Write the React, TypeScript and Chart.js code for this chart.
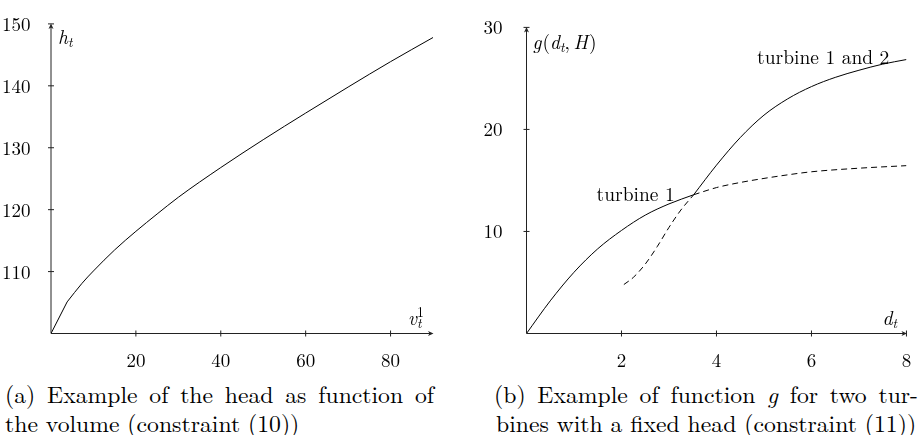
import React, { useEffect, useRef } from "react";
import { Chart, registerables } from "chart.js";

Chart.register(...registerables);

// ---------- data: (a) head as function of volume ----------
const volumeX = [0, 3.8, 7.3, 10, 15, 20, 25, 30, 40, 50, 60, 70, 80, 90];
const headY = [100, 105.1, 108.1, 110.1, 113.5, 116.5, 119.3, 122.0, 126.8, 131.3, 135.6, 139.8, 143.9, 147.8];
const headXTicks = [20, 40, 60, 80];
const headYTicks = [110, 120, 130, 140, 150];

// ---------- data: (b) function g for two turbines ----------
const t1SolidX = [0, 0.5, 1, 1.5, 2, 2.5, 3, 3.52];
const t1SolidY = [0, 3.2, 6.0, 8.3, 10.1, 11.6, 12.7, 13.6];
const t1DashX = [3.52, 4, 4.5, 5, 5.5, 6, 7, 8];
const t1DashY = [13.6, 14.3, 14.8, 15.2, 15.55, 15.85, 16.2, 16.45];
const t12DashX = [2.05, 2.25, 2.5, 2.75, 3, 3.25, 3.52];
const t12DashY = [4.8, 5.5, 6.8, 8.5, 10.4, 12.1, 13.6];
const t12SolidX = [3.52, 4, 4.5, 5, 5.5, 6, 6.5, 7, 7.5, 8];
const t12SolidY = [13.6, 16.5, 19.2, 21.4, 23.0, 24.2, 25.1, 25.8, 26.4, 26.85];
const gXTicks = [2, 4, 6, 8];
const gYTicks = [10, 20, 30];

const curveNames = ["turbine 1", "turbine 1 and 2"];

const FONT = "'Latin Modern Roman', 'Liberation Serif', serif";
const AXIS_COLOR = "#222";
const TICK_SIZE = 19;

type Seg = { t: string; italic?: boolean; sub?: boolean; sup?: boolean; stay?: boolean; gap?: number };

function drawMath(ctx: CanvasRenderingContext2D, segs: Seg[], x: number, y: number, size: number) {
  let cx = x;
  ctx.textAlign = "left";
  ctx.textBaseline = "alphabetic";
  for (const s of segs) {
    const small = s.sub || s.sup;
    const fs = small ? size * 0.7 : size;
    ctx.font = `${s.italic ? "italic " : ""}${fs}px ${FONT}`;
    const dy = s.sub ? size * 0.16 : s.sup ? -size * 0.43 : 0;
    ctx.fillText(s.t, cx, y + dy);
    if (!s.stay) cx += ctx.measureText(s.t).width + (s.gap || 0);
  }
}

// how far digit glyphs sit below the canvas "middle" baseline for this font
function digitShift(size: number): number {
  const ctx = document.createElement("canvas").getContext("2d");
  if (!ctx) return 0;
  ctx.font = `${size}px ${FONT}`;
  ctx.textBaseline = "middle";
  const m = ctx.measureText("0123456789");
  const s = (m.actualBoundingBoxDescent - m.actualBoundingBoxAscent) / 2;
  return isFinite(s) ? s : 0;
}

const pts = (xs: number[], ys: number[]) => xs.map((x, i) => ({ x, y: ys[i] }));

type Decor = {
  yLabel: Seg[];
  yLabelDx: number;
  yLabelDy: number;
  xLabel: Seg[];
  xLabelDx: number;
  xLabelDy: number;
  notes?: { text: string; x: number; y: number }[];
};

function decorPlugin(d: Decor) {
  return {
    id: "axesDecor",
    afterDatasetsDraw(chart: any) {
      const { ctx, chartArea: a, scales } = chart;
      const xs = scales.x;
      const ys = scales.y;
      ctx.save();
      ctx.strokeStyle = AXIS_COLOR;
      ctx.fillStyle = AXIS_COLOR;
      ctx.lineWidth = 1;
      ctx.beginPath();
      ctx.moveTo(a.left, a.bottom);
      ctx.lineTo(a.right - 2, a.bottom);
      ctx.moveTo(a.left, a.bottom);
      ctx.lineTo(a.left, a.top + 2);
      for (const t of xs.ticks) {
        const px = xs.getPixelForValue(t.value);
        ctx.moveTo(px, a.bottom - 3);
        ctx.lineTo(px, a.bottom + 3);
      }
      for (const t of ys.ticks) {
        const py = ys.getPixelForValue(t.value);
        ctx.moveTo(a.left - 3, py);
        ctx.lineTo(a.left + 3, py);
      }
      ctx.stroke();
      // arrow heads
      ctx.beginPath();
      ctx.moveTo(a.right + 0.5, a.bottom);
      ctx.lineTo(a.right - 5, a.bottom - 2.5);
      ctx.lineTo(a.right - 3.5, a.bottom);
      ctx.lineTo(a.right - 5, a.bottom + 2.5);
      ctx.closePath();
      ctx.fill();
      ctx.beginPath();
      ctx.moveTo(a.left, a.top - 0.5);
      ctx.lineTo(a.left - 2.5, a.top + 5);
      ctx.lineTo(a.left, a.top + 3.5);
      ctx.lineTo(a.left + 2.5, a.top + 5);
      ctx.closePath();
      ctx.fill();
      // axis labels
      ctx.fillStyle = "#000";
      drawMath(ctx, d.yLabel, a.left + d.yLabelDx, a.top + d.yLabelDy, 19.5);
      drawMath(ctx, d.xLabel, a.right + d.xLabelDx, a.bottom + d.xLabelDy, 19.5);
      // curve notes
      if (d.notes) {
        ctx.font = `19.5px ${FONT}`;
        ctx.textAlign = "right";
        ctx.textBaseline = "alphabetic";
        for (const n of d.notes) {
          ctx.fillText(n.text, xs.getPixelForValue(n.x), ys.getPixelForValue(n.y));
        }
      }
      ctx.restore();
    },
  };
}

function makeOptions(opts: {
  xMin: number; xMax: number; yMin: number; yMax: number;
  xTicks: number[]; yTicks: number[];
  yWidth: number; xHeight: number; padRight: number; padTop: number; yPad: number;
}) {
  const tickFont = { family: FONT, size: TICK_SIZE, lineHeight: 1.2 };
  const shift = digitShift(TICK_SIZE);
  // x labels: digit centre wanted ~18px below the axis line
  const xPad = 18 - (TICK_SIZE * 1.2) / 2 - shift;
  return {
    responsive: false,
    animation: false as const,
    events: [],
    layout: { padding: { left: 0, right: opts.padRight, top: opts.padTop, bottom: 0 } },
    plugins: { legend: { display: false }, tooltip: { enabled: false }, title: { display: false } },
    elements: { point: { radius: 0 }, line: { borderWidth: 1, borderColor: "#000" } },
    scales: {
      x: {
        type: "linear" as const,
        min: opts.xMin,
        max: opts.xMax,
        grid: { display: false },
        border: { display: false },
        ticks: { font: tickFont, color: "#000", padding: xPad, maxRotation: 0, autoSkip: false },
        afterBuildTicks: (s: any) => { s.ticks = opts.xTicks.map((v) => ({ value: v })); },
        afterFit: (s: any) => { s.height = opts.xHeight; },
      },
      y: {
        type: "linear" as const,
        min: opts.yMin,
        max: opts.yMax,
        grid: { display: false },
        border: { display: false },
        ticks: { font: tickFont, color: "#000", padding: opts.yPad, autoSkip: false, labelOffset: -shift },
        afterBuildTicks: (s: any) => { s.ticks = opts.yTicks.map((v) => ({ value: v })); },
        afterFit: (s: any) => { s.width = opts.yWidth; },
      },
    },
  };
}

function HeadChart() {
  const ref = useRef<HTMLCanvasElement>(null);
  useEffect(() => {
    const c = new Chart(ref.current!, {
      type: "line",
      data: {
        datasets: [
          { data: pts(volumeX.slice(0, 2), headY.slice(0, 2)), borderColor: "#000", borderWidth: 1, tension: 0 },
          { data: pts(volumeX.slice(1), headY.slice(1)), borderColor: "#000", borderWidth: 1, cubicInterpolationMode: "monotone" },
        ],
      },
      options: makeOptions({
        xMin: 0, xMax: 90, yMin: 100, yMax: 150,
        xTicks: headXTicks, yTicks: headYTicks,
        yWidth: 51, xHeight: 36.5, padRight: 27, padTop: 15.7, yPad: 12.5,
      }) as any,
      plugins: [
        decorPlugin({
          yLabel: [{ t: "h", italic: true }, { t: "t", italic: true, sub: true }],
          yLabelDx: 7, yLabelDy: 20.3,
          xLabel: [{ t: "v", italic: true }, { t: "t", italic: true, sub: true, stay: true }, { t: "1", sup: true }],
          xLabelDx: -25, xLabelDy: -8.5,
        }),
      ],
    });
    return () => c.destroy();
  }, []);
  return <canvas ref={ref} width={460} height={370} style={{ position: "absolute", left: 0, top: 0, width: 460, height: 370 }} />;
}

function GChart() {
  const ref = useRef<HTMLCanvasElement>(null);
  useEffect(() => {
    const dash = [6, 4];
    const c = new Chart(ref.current!, {
      type: "line",
      data: {
        datasets: [
          { label: curveNames[0], data: pts(t1SolidX, t1SolidY), borderColor: "#000", borderWidth: 1, cubicInterpolationMode: "monotone" },
          { label: curveNames[0], data: pts(t1DashX, t1DashY), borderColor: "#000", borderWidth: 1, borderDash: dash, cubicInterpolationMode: "monotone" },
          { label: curveNames[1], data: pts(t12DashX, t12DashY), borderColor: "#000", borderWidth: 1, borderDash: dash, cubicInterpolationMode: "monotone" },
          { label: curveNames[1], data: pts(t12SolidX, t12SolidY), borderColor: "#000", borderWidth: 1, cubicInterpolationMode: "monotone" },
        ],
      },
      options: makeOptions({
        xMin: 0, xMax: 8, yMin: 0, yMax: 30,
        xTicks: gXTicks, yTicks: gYTicks,
        yWidth: 66.5, xHeight: 36.5, padRight: 10.3, padTop: 15.7, yPad: 16,
      }) as any,
      plugins: [
        decorPlugin({
          yLabel: [
            { t: "g", italic: true, gap: 1 }, { t: "(" }, { t: "d", italic: true },
            { t: "t", italic: true, sub: true }, { t: ",", gap: 3.5 }, { t: "H", italic: true, gap: 1 }, { t: ")" },
          ],
          yLabelDx: 6, yLabelDy: 21.3,
          xLabel: [{ t: "d", italic: true }, { t: "t", italic: true, sub: true }],
          xLabelDx: -24, xLabelDy: -8.5,
          notes: [
            { text: curveNames[0], x: 3.12, y: 13.0 },
            { text: curveNames[1], x: 7.64, y: 26.45 },
          ],
        }),
      ],
    });
    return () => c.destroy();
  }, []);
  return <canvas ref={ref} width={459} height={370} style={{ position: "absolute", left: 460, top: 0, width: 459, height: 370 }} />;
}

const capStyle: React.CSSProperties = {
  position: "absolute",
  fontFamily: FONT,
  fontSize: "23.7px",
  lineHeight: "29px",
  color: "#000",
  whiteSpace: "normal",
};

export default function App() {
  return (
    <div style={{ position: "absolute", left: 0, top: 0, width: 919, height: 435, background: "#fff", overflow: "hidden" }}>
      <HeadChart />
      <GChart />
      <div style={{ ...capStyle, left: 5, top: 379, width: 429, textAlign: "justify", textAlignLast: "justify" }}>
        (a) Example of the head as function of
      </div>
      <div style={{ ...capStyle, left: 5, top: 408, whiteSpace: "nowrap" }}>the volume (constraint (10))</div>
      <div style={{ ...capStyle, left: 494, top: 379, width: 424, textAlign: "justify", textAlignLast: "justify" }}>
        (b) Example of function <i>g</i> for two tur-
      </div>
      <div style={{ ...capStyle, left: 496, top: 408, whiteSpace: "nowrap" }}>
        bines with a fixed head (constraint (11))
      </div>
    </div>
  );
}
